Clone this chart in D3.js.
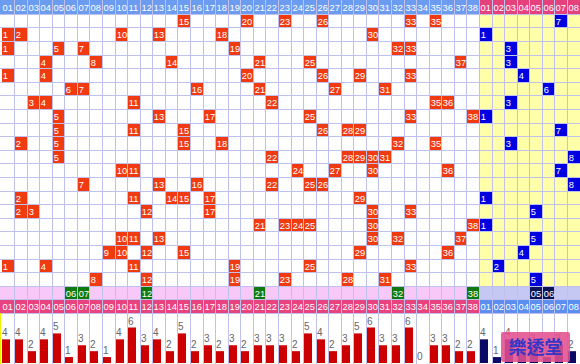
<!DOCTYPE html>
<html><head><meta charset="utf-8">
<script src="https://cdn.jsdelivr.net/npm/d3@7"></script>
<style>body{margin:0;background:#fff;}svg{display:block;}</style>
</head><body><svg id="c" width="580" height="364"></svg>
<script>
const redLabels = ["01","02","03","04","05","06","07","08","09","10","11","12","13","14","15","16","17","18","19","20","21","22","23","24","25","26","27","28","29","30","31","32","33","34","35","36","37","38"];
const blueLabels = ["01","02","03","04","05","06","07","08"];
const redDraws = [
  [15,20,23,26,33,35],[1,2,10,13,18,30],[1,5,7,19,32,33],[4,8,14,21,25,37],
  [1,4,20,26,29,33],[6,7,16,21,27,31],[3,4,11,22,35,36],[5,13,17,25,33,38],
  [5,11,15,26,28,29],[2,5,15,18,32,35],[5,22,28,29,30,31],[10,11,24,27,30,36],
  [7,13,16,22,25,26],[2,11,14,15,17,29],[2,3,12,17,30,33],[21,23,24,25,30,38],
  [10,11,13,30,32,37],[9,10,12,15,29,36],[1,4,11,19,25,33],[8,12,19,23,28,31]
];
const blueDraws = [7,1,3,3,4,6,3,1,7,3,8,7,8,1,5,1,5,4,2,5];
const nextRed = [6,7,12,21,32,38];
const nextBlue = [5,6];
const redCounts = [4,4,2,4,5,1,3,2,1,4,6,3,4,2,5,2,3,2,3,2,3,3,3,2,5,4,2,3,5,6,3,3,6,0,3,3,2,2];
const blueCounts = [4,1,4,2,3,1,3,2];

const W = 580, H = 364;
const svg = d3.select("#c");
const FONT = "'Liberation Sans',Arial,sans-serif";
const FS = 9.3;

const colKeys = redLabels.map(d => "R" + d).concat(blueLabels.map(d => "B" + d));
const x = d3.scaleBand().domain(colKeys).range([1.4, 579.6]);
const rowKeys = ["head"].concat(redDraws.map((d, i) => "r" + i), ["next", "foot"]);
const y = d3.scaleBand().domain(rowKeys).range([0.2, 313]);
const cw = x.bandwidth(), rh = y.bandwidth();
const X = k => Math.round(x(k));
const Y = k => Math.round(y(k));
const bx = X("B01");
const yCount = d3.scaleLinear().domain([0, 6]).range([363, 327.5]);

// backgrounds
svg.append("rect").attr("x", bx).attr("y", Y("r0")).attr("width", W - bx).attr("height", Y("next") - Y("r0")).attr("fill", "#ffffaa");
svg.append("rect").attr("x", 0).attr("y", Y("next")).attr("width", bx).attr("height", Y("foot") - Y("next")).attr("fill", "#f8c8f8");
svg.append("rect").attr("x", bx).attr("y", Y("next")).attr("width", W - bx).attr("height", Y("foot") - Y("next")).attr("fill", "#c4c8f2");
svg.append("rect").attr("x", 0).attr("y", 0).attr("width", bx).attr("height", Y("r0")).attr("fill", "#6b9cf0");
svg.append("rect").attr("x", bx).attr("y", 0).attr("width", W - bx).attr("height", Y("r0")).attr("fill", "#e5417d");
svg.append("rect").attr("x", 0).attr("y", Y("foot")).attr("width", bx).attr("height", 313 - Y("foot")).attr("fill", "#e8437e");
svg.append("rect").attr("x", bx).attr("y", Y("foot")).attr("width", W - bx).attr("height", 313 - Y("foot")).attr("fill", "#5b8ef0");

// grid
const g = svg.append("g").attr("shape-rendering", "crispEdges");
g.selectAll("line.v").data(colKeys.slice(1)).join("line")
  .attr("x1", d => X(d) + 0.5).attr("x2", d => X(d) + 0.5)
  .attr("y1", 0).attr("y2", H).attr("stroke", "#c0c0ec");
g.selectAll("line.h").data(rowKeys.slice(1).concat(["end"])).join("line")
  .attr("x1", 0).attr("x2", W)
  .attr("y1", d => (d === "end" ? 313 : Y(d)) + 0.5).attr("y2", d => (d === "end" ? 313 : Y(d)) + 0.5)
  .attr("stroke", "#c0c0ec");
g.append("line").attr("x1", 0.5).attr("x2", 0.5).attr("y1", 313).attr("y2", H).attr("stroke", "#f0f000");

// headers
function header(rowKey) {
  svg.append("g").selectAll("text").data(colKeys).join("text")
    .attr("x", d => X(d) + 1.5).attr("y", Y(rowKey) + 10.5)
    .attr("font-family", FONT).attr("font-size", FS).attr("fill", "#fff")
    .text(d => d.slice(1));
}
header("head");
header("foot");

// cells
const cells = [];
redDraws.forEach((row, i) => row.forEach(n => cells.push({ col: "R" + redLabels[n - 1], row: "r" + i, t: String(n), fill: "#f03a10" })));
blueDraws.forEach((n, i) => cells.push({ col: "B" + blueLabels[n - 1], row: "r" + i, t: String(n), fill: "#0000e0" }));
nextRed.forEach(n => cells.push({ col: "R" + redLabels[n - 1], row: "next", t: redLabels[n - 1], fill: "#0e7a0e" }));
nextBlue.forEach(n => cells.push({ col: "B" + blueLabels[n - 1], row: "next", t: blueLabels[n - 1], fill: "#0c1458" }));

const cg = svg.append("g");
cg.selectAll("rect").data(cells).join("rect")
  .attr("x", d => X(d.col) + 1).attr("y", d => Y(d.row) + 1)
  .attr("width", d => Math.round(x(d.col) + cw) - X(d.col) - 1)
  .attr("height", d => Math.round(y(d.row) + rh) - Y(d.row) - 1)
  .attr("fill", d => d.fill).attr("shape-rendering", "crispEdges");
cg.selectAll("text").data(cells).join("text")
  .attr("x", d => X(d.col) + 1.8).attr("y", d => Y(d.row) + 10.5)
  .attr("font-family", FONT).attr("font-size", FS).attr("fill", "#fff")
  .text(d => d.t);

// bars
const bars = redCounts.map((c, i) => ({ col: "R" + redLabels[i], c, fill: "#cc0000" }))
  .concat(blueCounts.map((c, i) => ({ col: "B" + blueLabels[i], c, fill: "#0a0a66" })));
const bg = svg.append("g");
bg.selectAll("rect").data(bars).join("rect")
  .attr("x", d => X(d.col) + 1).attr("width", 8)
  .attr("y", d => yCount(d.c)).attr("height", d => yCount(0) - yCount(d.c))
  .attr("fill", d => d.fill);
bg.selectAll("text").data(bars).join("text")
  .attr("x", d => X(d.col) + 1).attr("y", d => yCount(d.c) - 3)
  .attr("font-family", FONT).attr("font-size", 10).attr("fill", "#666")
  .text(d => d.c);

// watermark
svg.append("rect").attr("x", 501).attr("y", 332).attr("width", 69).attr("height", 30).attr("rx", 2)
  .attr("fill", "#e3508f").attr("opacity", 0.88);
svg.append("text").attr("x", 535.5).attr("y", 354).attr("text-anchor", "middle")
  .attr("font-family", "'Noto Sans CJK TC','Noto Sans CJK SC',sans-serif").attr("font-size", 18).attr("font-weight", 700)
  .attr("fill", "#3535c8").text("樂透堂");
</script></body></html>
